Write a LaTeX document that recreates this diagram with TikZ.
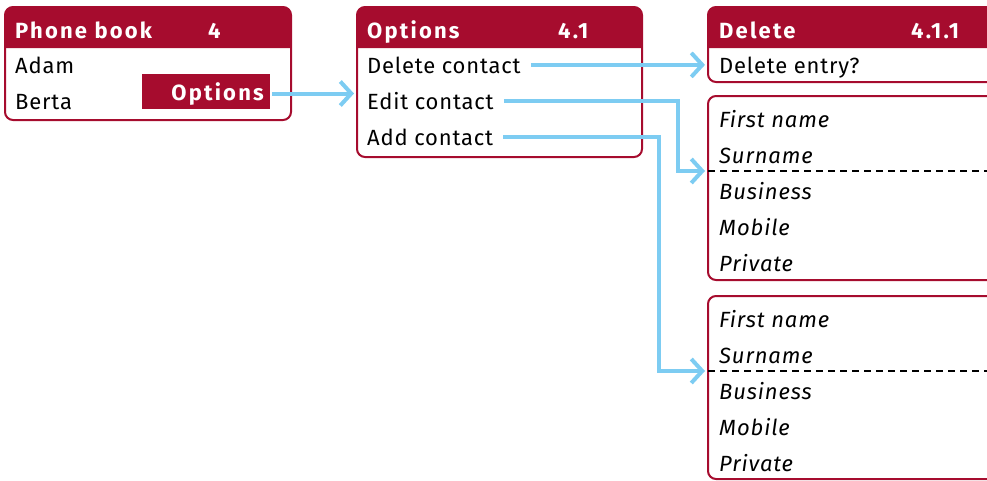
\documentclass[tikz,border=0pt]{standalone}
\usepackage{fontspec}
\setmainfont{Fira Sans}
\usetikzlibrary{arrows.meta,positioning,calc}
\definecolor{pbRed}{RGB}{166,12,46}
\definecolor{linkBlue}{RGB}{125,204,242}

\tikzset{
  frame/.style={draw=pbRed, line width=2pt, rounded corners=8pt, anchor=north west, inner sep=0pt, outer sep=0pt},
  head/.style={anchor=base west, inner sep=0pt, text=white, font=\fontsize{22}{26}\selectfont\bfseries\addfontfeature{LetterSpace=10}},
  entry/.style={anchor=base west, inner sep=0pt, font=\fontsize{22}{26}\selectfont\addfontfeature{LetterSpace=3.6}},
  field/.style={anchor=base west, inner sep=0pt, font=\fontsize{22}{26}\selectfont\itshape\addfontfeature{LetterSpace=4}},
  link/.style={draw=linkBlue, line width=4pt, -{Straight Barb[length=11pt,width=24pt]}, shorten >=3pt},
  sep/.style={black, line width=2.4pt, dash pattern=on 7pt off 5pt},
}

\begin{document}
\begin{tikzpicture}[x=1pt, y=-1pt]
    \useasboundingbox (0,0) rectangle (987,480);
    \clip (0,0) rectangle (987,480);
    % Screen 4: phone book
    \node[frame, minimum width=286pt, minimum height=113pt] (pb) at (5,7) {};
    \fill[pbRed] ([yshift=-41pt]pb.north west) [rounded corners=8pt] -- (pb.north west)
      -- (pb.north east) [sharp corners] -- ([yshift=-41pt]pb.north east) -- cycle;
    \node[head] (pb-title) at (15,38) {Phone book};
    \node[head] (pb-num) at (208,38) {4};
    \node[entry] (adam) at (15,73) {Adam};
    \node[entry] (berta) at (15,109) {Berta};
    \node[fill=pbRed, anchor=north west, minimum width=128pt, minimum height=35pt, inner sep=0pt] (pb-sel) at (142,74) {};
    \node[head, anchor=base east] (pb-opt) at (264,100) {Options};
    % Screen 4.1: options
    \node[frame, minimum width=285pt, minimum height=150pt] (opt) at (357,7) {};
    \fill[pbRed] ([yshift=-41pt]opt.north west) [rounded corners=8pt] -- (opt.north west)
      -- (opt.north east) [sharp corners] -- ([yshift=-41pt]opt.north east) -- cycle;
    \node[head] (opt-title) at (367,38) {Options};
    \node[head] (opt-num) at (558,38) {4.1};
    \node[entry] (opt-del) at (367,73) {Delete contact};
    \node[entry] (opt-edit) at (367,109) {Edit contact};
    \node[entry] (opt-add) at (367,145) {Add contact};
    % Screen 4.1.1: delete
    \node[frame, minimum width=300pt, minimum height=75pt] (del) at (708,7) {};
    \fill[pbRed] ([yshift=-41pt]del.north west) [rounded corners=8pt] -- (del.north west)
      -- (del.north east) [sharp corners] -- ([yshift=-41pt]del.north east) -- cycle;
    \node[head] (del-title) at (719,38) {Delete};
    \node[head] (del-num) at (911,38) {4.1.1};
    \node[entry] (del-ask) at (719,73) {Delete entry?};
    % Edit form
    \node[frame, minimum width=300pt, minimum height=184pt] (edit) at (708,96) {};
    \foreach \f [count=\i] in {First name, Surname, Business, Mobile, Private}
      \node[field] (edit-\i) at (719,{91+36*\i}) {\f};
    \coordinate (edit-in) at (708,171);
    \draw[sep] (edit-in) -- (1000,171);
    % Add form
    \node[frame, minimum width=300pt, minimum height=183pt] (add) at (708,296) {};
    \foreach \f [count=\i] in {First name, Surname, Business, Mobile, Private}
      \node[field] (add-\i) at (719,{291+36*\i}) {\f};
    \coordinate (add-in) at (708,371);
    \draw[sep] (add-in) -- (1000,371);
    % Connectors
    \draw[link] ([xshift=8pt]pb-opt.east) -- (pb-opt.east -| opt.west);
    \draw[link] ([xshift=10pt]opt-del.east) -- (opt-del.east -| del.west);
    \draw[link] ([xshift=10pt]opt-edit.east) -| ([xshift=-30pt]edit-in) -- (edit-in);
    \draw[link] ([xshift=10pt]opt-add.east) -| ([xshift=-49pt]add-in) -- (add-in);
\end{tikzpicture}
\end{document}
